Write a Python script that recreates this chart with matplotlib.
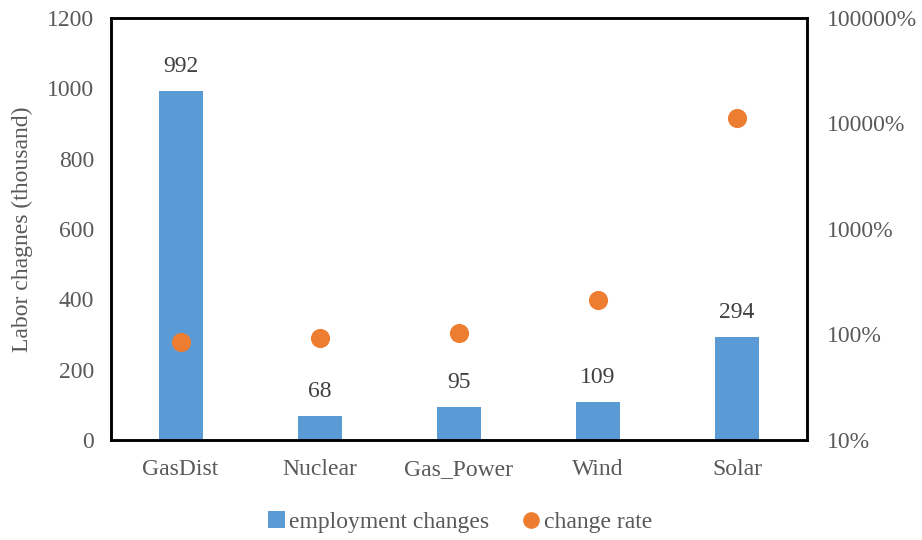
import matplotlib
matplotlib.use("Agg")
import matplotlib.pyplot as plt
from matplotlib.ticker import FixedLocator, FuncFormatter, NullLocator
from matplotlib.lines import Line2D
from matplotlib.patches import Patch

categories = ["GasDist", "Nuclear", "Gas_Power", "Wind", "Solar"]
employment_changes = [992, 68, 95, 109, 294]
change_rate_pct = [85.5, 93, 103, 212, 11200]
left_ticks = [0, 200, 400, 600, 800, 1000, 1200]
right_ticks = [10, 100, 1000, 10000, 100000]

plt.rcParams['font.family'] = ['Liberation Serif', 'DejaVu Serif']
gray = '#595959'
blue = '#5B9BD5'
orange = '#ED7D31'

fig = plt.figure(figsize=(9.22, 5.4), dpi=100)
ax = fig.add_axes([111/922, 100/540, (806.5-111)/922, (440-18)/540])
x = list(range(len(categories)))
ax.bar(x, employment_changes, width=0.317, color=blue, zorder=2)
for xi, v in zip(x, employment_changes):
    ax.annotate(str(v), (xi, v), xytext=(0, 10), textcoords='offset points',
                ha='center', va='bottom', fontsize=17, color='#404040')
ax.set_xlim(-0.5, len(categories) - 0.5)
ax.set_ylim(0, 1200)
ax.yaxis.set_major_locator(FixedLocator(left_ticks))
ax.set_xticks(x)
ax.set_xticklabels(categories)
ax.tick_params(axis='both', length=0, labelsize=17, labelcolor=gray)
ax.tick_params(axis='x', pad=14)
ax.tick_params(axis='y', pad=12)
ax.set_ylabel('Labor chagnes (thousand)', fontsize=17, color=gray, labelpad=10)
for s in ax.spines.values():
    s.set_color('black')
    s.set_linewidth(1.8)

ax2 = ax.twinx()
ax2.set_yscale('log')
ax2.set_ylim(10, 100000)
ax2.scatter(x, change_rate_pct, s=190, color=orange, zorder=3, linewidths=0)
ax2.yaxis.set_major_locator(FixedLocator(right_ticks))
ax2.yaxis.set_minor_locator(NullLocator())
ax2.yaxis.set_major_formatter(FuncFormatter(lambda v, p: f"{int(round(v))}%"))
ax2.tick_params(axis='y', length=0, labelsize=17, labelcolor=gray, pad=15)
for s in ax2.spines.values():
    s.set_color('black')
    s.set_linewidth(1.8)

handles = [Patch(facecolor=blue, edgecolor='none'),
           Line2D([], [], marker='o', linestyle='none', markersize=12,
                  markerfacecolor=orange, markeredgecolor='none')]
leg = fig.legend(handles, ['employment changes', 'change rate'], loc='center',
                 bbox_to_anchor=(460/922, 1 - 522/540), ncol=2, frameon=False,
                 fontsize=17, handlelength=0.7, handletextpad=0.2,
                 columnspacing=1.4)
for t in leg.get_texts():
    t.set_color(gray)

fig.savefig('out.png', dpi=100)
